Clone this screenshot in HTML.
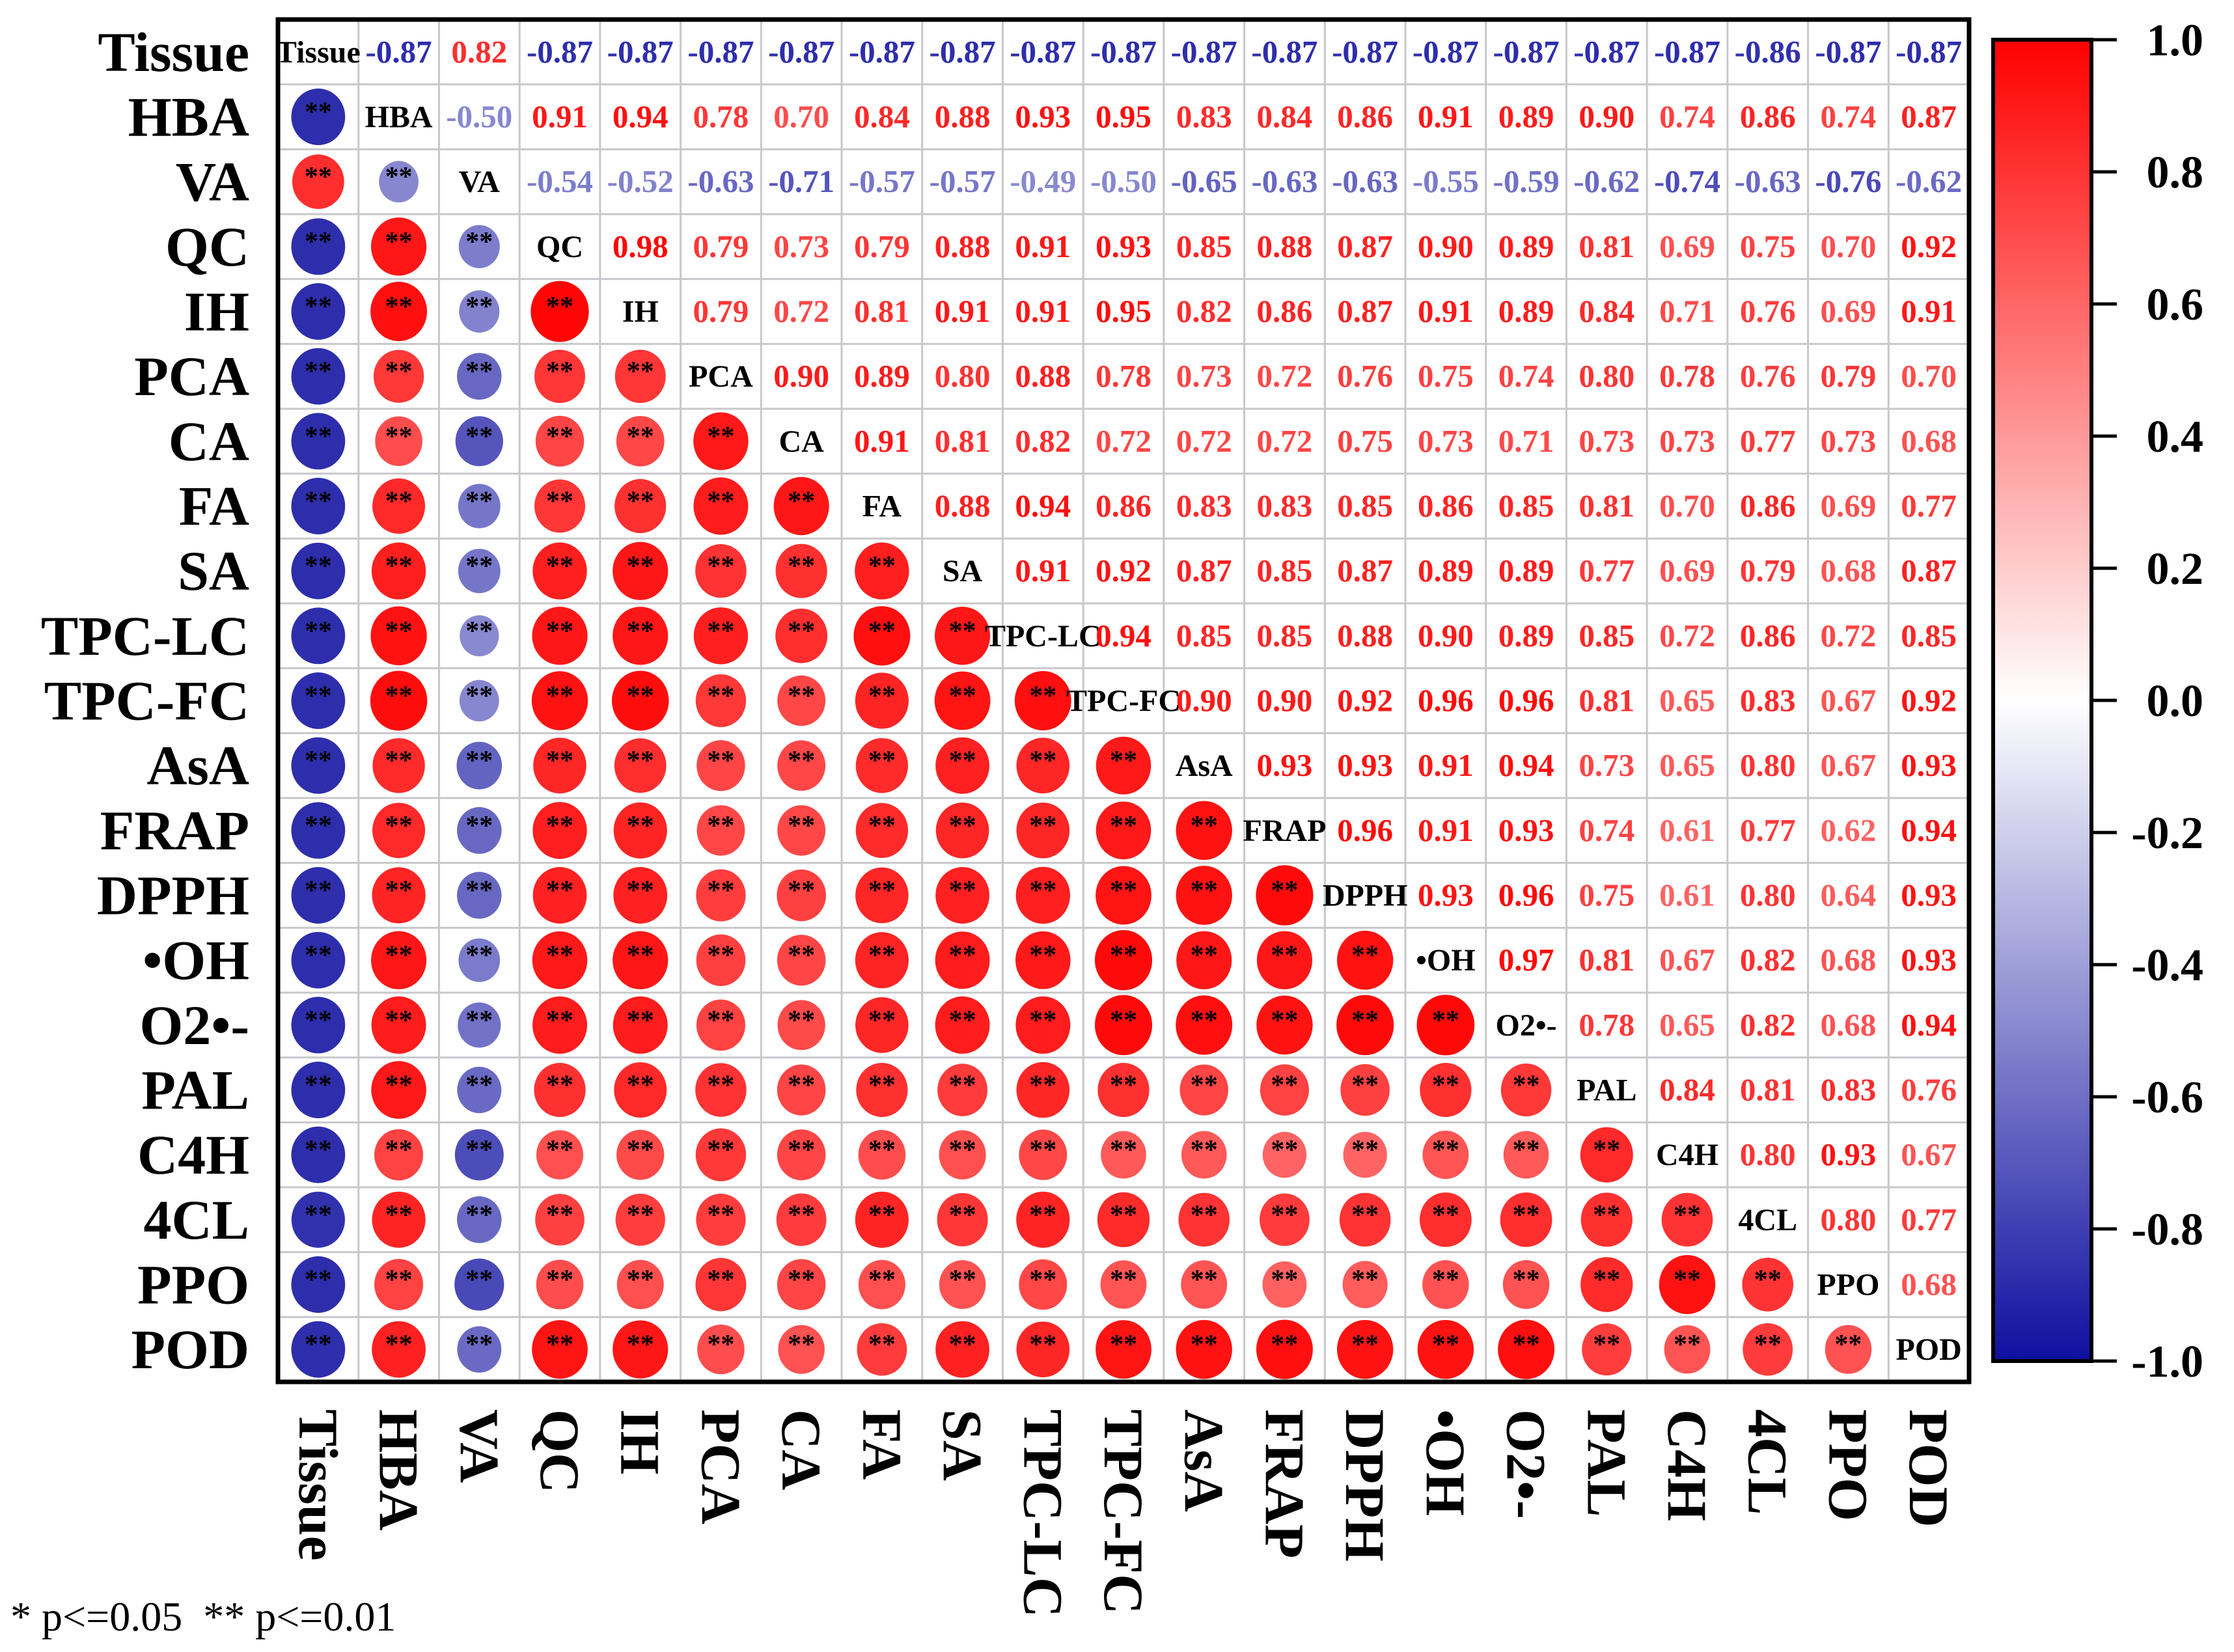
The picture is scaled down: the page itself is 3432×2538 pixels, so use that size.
<!DOCTYPE html>
<html><head><meta charset="utf-8">
<style>
html,body{margin:0;padding:0;background:#fff;}
svg{display:block;}
text{font-family:"Liberation Serif",serif;font-weight:bold;}
</style></head>
<body>
<svg id="chart" width="3432" height="2538" viewBox="0 0 3432 2538" xmlns="http://www.w3.org/2000/svg">
<defs>
<linearGradient id="cbar" x1="0" y1="0" x2="0" y2="1">
<stop offset="0" stop-color="#ff0000"/>
<stop offset="0.5" stop-color="#ffffff"/>
<stop offset="1" stop-color="#0f0fa0"/>
</linearGradient>
</defs>
<g id="grid"></g>
<g id="marks"></g>
<rect x="427" y="30" width="2598" height="2093" fill="none" stroke="#000" stroke-width="7"/>
<g id="rowlabels"></g>
<g id="collabels"></g>
<rect x="3062" y="61" width="151" height="2030" fill="url(#cbar)" stroke="#000" stroke-width="6"/>
<g id="cbticks"></g>
<text x="16" y="2505" font-size="64" style="font-weight:normal">* p&lt;=0.05&#160;&#160;** p&lt;=0.01</text>
</svg>
<script>
const labels = ["Tissue","HBA","VA","QC","IH","PCA","CA","FA","SA","TPC-LC","TPC-FC","AsA","FRAP","DPPH","•OH","O2•-","PAL","C4H","4CL","PPO","POD"];
const rTissue = [-0.87,0.82,-0.87,-0.87,-0.87,-0.87,-0.87,-0.87,-0.87,-0.87,-0.87,-0.87,-0.87,-0.87,-0.87,-0.87,-0.87,-0.86,-0.87,-0.87];
const rHBA = [-0.50,0.91,0.94,0.78,0.70,0.84,0.88,0.93,0.95,0.83,0.84,0.86,0.91,0.89,0.90,0.74,0.86,0.74,0.87];
const rVA = [-0.54,-0.52,-0.63,-0.71,-0.57,-0.57,-0.49,-0.50,-0.65,-0.63,-0.63,-0.55,-0.59,-0.62,-0.74,-0.63,-0.76,-0.62];
const rQC = [0.98,0.79,0.73,0.79,0.88,0.91,0.93,0.85,0.88,0.87,0.90,0.89,0.81,0.69,0.75,0.70,0.92];
const rIH = [0.79,0.72,0.81,0.91,0.91,0.95,0.82,0.86,0.87,0.91,0.89,0.84,0.71,0.76,0.69,0.91];
const rPCA = [0.90,0.89,0.80,0.88,0.78,0.73,0.72,0.76,0.75,0.74,0.80,0.78,0.76,0.79,0.70];
const rCA = [0.91,0.81,0.82,0.72,0.72,0.72,0.75,0.73,0.71,0.73,0.73,0.77,0.73,0.68];
const rFA = [0.88,0.94,0.86,0.83,0.83,0.85,0.86,0.85,0.81,0.70,0.86,0.69,0.77];
const rSA = [0.91,0.92,0.87,0.85,0.87,0.89,0.89,0.77,0.69,0.79,0.68,0.87];
const rTPCLC = [0.94,0.85,0.85,0.88,0.90,0.89,0.85,0.72,0.86,0.72,0.85];
const rTPCFC = [0.90,0.90,0.92,0.96,0.96,0.81,0.65,0.83,0.67,0.92];
const rAsA = [0.93,0.93,0.91,0.94,0.73,0.65,0.80,0.67,0.93];
const rFRAP = [0.96,0.91,0.93,0.74,0.61,0.77,0.62,0.94];
const rDPPH = [0.93,0.96,0.75,0.61,0.80,0.64,0.93];
const rOH = [0.97,0.81,0.67,0.82,0.68,0.93];
const rO2 = [0.78,0.65,0.82,0.68,0.94];
const rPAL = [0.84,0.81,0.83,0.76];
const rC4H = [0.80,0.93,0.67];
const r4CL = [0.80,0.77];
const rPPO = [0.68];
const upperRows = [rTissue,rHBA,rVA,rQC,rIH,rPCA,rCA,rFA,rSA,rTPCLC,rTPCFC,rAsA,rFRAP,rDPPH,rOH,rO2,rPAL,rC4H,r4CL,rPPO];
const cbTicks = [1.0,0.8,0.6,0.4,0.2,0.0,-0.2,-0.4,-0.6,-0.8,-1.0];

const NS="http://www.w3.org/2000/svg";
const X0=427,Y0=30,W=2598,H=2093,N=labels.length;
const cw=W/N, ch=H/N;
const cx=i=>X0+cw*(i+0.5);
const cy=i=>Y0+ch*(i+0.5);
const cbTop=61,cbBot=2091;
const cbY=v=>cbTop+(1-v)/2*(cbBot-cbTop);
function color(r){
  const t=Math.min(1,Math.abs(r));
  if(r>=0){const g=Math.round(255*(1-t));return `rgb(255,${g},${g})`;}
  const a=Math.round(255*(1-t)+15*t), b=Math.round(255*(1-t)+160*t);
  return `rgb(${a},${a},${b})`;
}
function mk(tag,attrs,parent){const e=document.createElementNS(NS,tag);for(const k in attrs)e.setAttribute(k,attrs[k]);parent.appendChild(e);return e;}
function val(i,j){ if(i===j) return 1; const a=Math.min(i,j),b=Math.max(i,j); return upperRows[a][b-a-1]; }

const grid=document.getElementById('grid');
for(let k=1;k<N;k++){
  const l1=mk('line',{x1:X0+cw*k,x2:X0+cw*k,y1:Y0,y2:Y0+H,stroke:'#c8c8cc','stroke-width':3},grid);
  
  
  const l2=mk('line',{x1:X0,x2:X0+W,y1:Y0+ch*k,y2:Y0+ch*k,stroke:'#c8c8cc','stroke-width':3},grid);
  
  
}
const marks=document.getElementById('marks');
for(let i=0;i<N;i++){
  for(let j=0;j<N;j++){
    if(i===j){
      const t=mk('text',{x:cx(j),y:cy(i)+16,'font-size':48,'text-anchor':'middle',fill:'#000'},marks);
      t.textContent=labels[i];
      
      
    } else if(j>i){
      const r=val(i,j);
      const t=mk('text',{x:cx(j),y:cy(i)+16,'font-size':49,'text-anchor':'middle',fill:color(r)},marks);
      t.textContent=r.toFixed(2);
      
      
    } else {
      const r=val(i,j);
      const d=31+59.5*Math.abs(r);
      const c=mk('ellipse',{cx:cx(j),cy:cy(i),rx:d/2,ry:d/2*1.05,fill:color(r)},marks);
      
      
      const s=mk('text',{x:cx(j),y:cy(i)+6,'font-size':42,'text-anchor':'middle',fill:'#000'},marks);
      s.textContent='**';
      
      
    }
  }
}
const rl=document.getElementById('rowlabels');
const cl=document.getElementById('collabels');
labels.forEach((lab,i)=>{
  const t=mk('text',{x:383,y:cy(i)+29,'font-size':86,'text-anchor':'end',fill:'#000'},rl);
  t.textContent=lab;
  
  
  const c=mk('text',{x:0,y:0,'font-size':86,'text-anchor':'start',fill:'#000',transform:`translate(${cx(i)-29},2165) rotate(90)`},cl);
  c.textContent=lab;
  
  
});
const cb=document.getElementById('cbticks');
cbTicks.forEach(v=>{
  const l=mk('line',{x1:3213,x2:3252,y1:cbY(v),y2:cbY(v),stroke:'#000','stroke-width':5},cb);
  
  
  const t=mk('text',{x:3385,y:cbY(v)+24,'font-size':70,'text-anchor':'end',fill:'#000'},cb);
  t.textContent=v.toFixed(1);
  
  
});
</script>
</body></html>
